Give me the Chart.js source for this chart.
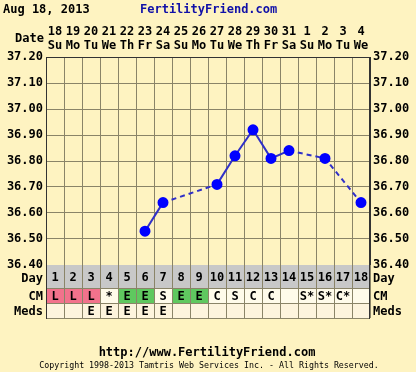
<!DOCTYPE html>
<html>
<head>
<meta charset="utf-8">
<script src="https://cdn.jsdelivr.net/npm/chart.js@4.4.1/dist/chart.umd.min.js"></script>
<style>
  body { margin: 0; background: #fef3c1; }
  #wrap { width: 416px; height: 372px; }
</style>
</head>
<body>
<div id="wrap"><canvas id="grafico" width="416" height="372"></canvas></div>
<script>
// --- datos del ciclo ---
const dias = ['1','2','3','4','5','6','7','8','9','10','11','12','13','14','15','16','17','18'];
const fechas = ['18','19','20','21','22','23','24','25','26','27','28','29','30','31','1','2','3','4'];
const semana = ['Su','Mo','Tu','We','Th','Fr','Sa','Su','Mo','Tu','We','Th','Fr','Sa','Su','Mo','Tu','We'];
const temperaturas = [null, null, null, null, null, 36.53, 36.64, null, null, 36.71, 36.82, 36.92, 36.81, 36.84, null, 36.81, null, 36.64];
const moco = ['L','L','L','*','E','E','S','E','E','C','S','C','C','','S*','S*','C*',''];
const medicinas = ['','','E','E','E','E','E','','','','','','','','','','',''];
const etiquetasFilas = ['Day', 'CM', 'Meds'];

const FUENTE = '"DejaVu Sans Mono", monospace';
const colorRejilla = '#8a8468';

// colores de la fila CM
function colorMoco(v) {
    if (v === 'L') return '#f2728c';
    if (v === 'E') return '#5fc85f';
    return '#fffbea';
}

// tramo que cruza un dia sin dato -> linea discontinua
function hayHueco(c) {
    return c.p0.skip || c.p1.skip;
}

// tabla inferior y textos sueltos
const tablaPlugin = {
    id: 'tabla',
    afterDraw(chart) {
        const c = chart.ctx;
        const x = chart.scales.x;
        const area = chart.chartArea;
        const ancho = x.getPixelForValue(1) - x.getPixelForValue(0);
        const filas = [
            { y: area.bottom, h: 23 },
            { y: area.bottom + 23, h: 15 },
            { y: area.bottom + 38, h: 15 }
        ];
        c.save();
        c.textAlign = 'center';
        c.textBaseline = 'middle';
        c.font = 'bold 12px ' + FUENTE;
        dias.forEach((d, i) => {
            const x0 = x.getPixelForValue(i) - ancho / 2;
            c.fillStyle = '#c8c8c8';
            c.fillRect(x0, filas[0].y, ancho, filas[0].h);
            c.fillStyle = colorMoco(moco[i]);
            c.fillRect(x0, filas[1].y, ancho, filas[1].h);
            c.fillStyle = '#fdf4dd';
            c.fillRect(x0, filas[2].y, ancho, filas[2].h);
            c.fillStyle = '#000';
            c.fillText(d, x0 + ancho / 2, filas[0].y + filas[0].h / 2 + 1);
            c.fillText(moco[i], x0 + ancho / 2, filas[1].y + filas[1].h / 2 + 1);
            c.fillText(medicinas[i], x0 + ancho / 2, filas[2].y + filas[2].h / 2 + 1);
        });
        // lineas de la tabla
        c.strokeStyle = colorRejilla;
        c.lineWidth = 1;
        c.beginPath();
        for (let i = 0; i <= dias.length; i++) {
            const px = Math.round(area.left + i * ancho) + 0.5;
            c.moveTo(px, filas[0].y);
            c.lineTo(px, filas[2].y + filas[2].h);
        }
        filas.forEach(f => {
            c.moveTo(area.left, Math.round(f.y + f.h) + 0.5);
            c.lineTo(area.right, Math.round(f.y + f.h) + 0.5);
        });
        c.stroke();
        c.strokeStyle = '#333';
        c.beginPath();
        c.moveTo(area.left + 0.5, area.top);
        c.lineTo(area.left + 0.5, filas[2].y + filas[2].h + 1);
        c.moveTo(area.right - 0.5, area.top);
        c.lineTo(area.right - 0.5, filas[2].y + filas[2].h + 1);
        c.stroke();

        // etiquetas de filas a ambos lados
        c.fillStyle = '#000';
        filas.forEach((f, i) => {
            const yy = f.y + f.h / 2 + (i === 0 ? 2 : 1);
            c.textAlign = 'right';
            c.fillText(etiquetasFilas[i], area.left - 3, yy);
            c.textAlign = 'left';
            c.fillText(etiquetasFilas[i], area.right + 3, yy);
        });

        // cabecera
        c.textAlign = 'left';
        c.fillText('Aug 18, 2013', 3, 10);
        c.fillStyle = '#1010a8';
        c.fillText('FertilityFriend.com', 140, 10);
        c.fillStyle = '#000';
        c.textAlign = 'right';
        c.fillText('Date', 44, 39);

        // pie
        c.textAlign = 'center';
        c.fillText('http://www.FertilityFriend.com', 207, 353);
        c.font = '8.3px ' + FUENTE;
        c.fillText('Copyright 1998-2013 Tamtris Web Services Inc. - All Rights Reserved.', 209, 366);
        c.restore();
    }
};

const ctx = document.getElementById('grafico').getContext('2d');

const grafico = new Chart(ctx, {
    type: 'line',
    data: {
        labels: dias,
        datasets: [{
            data: temperaturas,
            borderColor: '#3030c8',
            borderWidth: 2,
            pointBackgroundColor: '#0000ff',
            pointBorderColor: '#0000ff',
            pointRadius: 4.5,
            spanGaps: true,
            tension: 0,
            segment: {
                borderDash: c => (hayHueco(c) ? [5, 4] : undefined)
            }
        }]
    },
    options: {
        responsive: false,
        animation: false,
        layout: { padding: 0 },
        plugins: {
            legend: { display: false },
            tooltip: { enabled: false }
        },
        scales: {
            x: {
                type: 'category',
                position: 'bottom',
                offset: true,
                afterFit: s => { s.height = 107; },
                ticks: { display: false },
                grid: { offset: true, color: colorRejilla, drawTicks: false },
                border: { color: '#333' }
            },
            xTop: {
                type: 'category',
                position: 'top',
                labels: fechas.map((f, i) => [f, semana[i]]),
                offset: true,
                afterFit: s => { s.height = 57; },
                ticks: {
                    color: '#000',
                    padding: 5,
                    maxRotation: 0,
                    autoSkip: false,
                    font: { family: FUENTE, size: 12, weight: 'bold', lineHeight: 1.1 }
                },
                grid: { display: false, drawTicks: false },
                border: { display: true, color: '#333' }
            },
            y: {
                position: 'left',
                min: 36.4,
                max: 37.2,
                afterFit: s => { s.width = 46; },
                ticks: {
                    stepSize: 0.05,
                    padding: 3,
                    color: '#000',
                    font: { family: FUENTE, size: 12, weight: 'bold' },
                    callback: v => (Math.round(v * 100) % 10 === 0 ? v.toFixed(2) : '')
                },
                grid: { color: colorRejilla, drawTicks: false },
                border: { color: '#333' }
            },
            yRight: {
                position: 'right',
                min: 36.4,
                max: 37.2,
                afterFit: s => { s.width = 46; },
                ticks: {
                    stepSize: 0.05,
                    padding: 3,
                    color: '#000',
                    font: { family: FUENTE, size: 12, weight: 'bold' },
                    callback: v => (Math.round(v * 100) % 10 === 0 ? v.toFixed(2) : '')
                },
                grid: { display: false, drawTicks: false },
                border: { display: true, color: '#333' }
            }
        }
    },
    plugins: [tablaPlugin]
});
</script>
</body>
</html>
